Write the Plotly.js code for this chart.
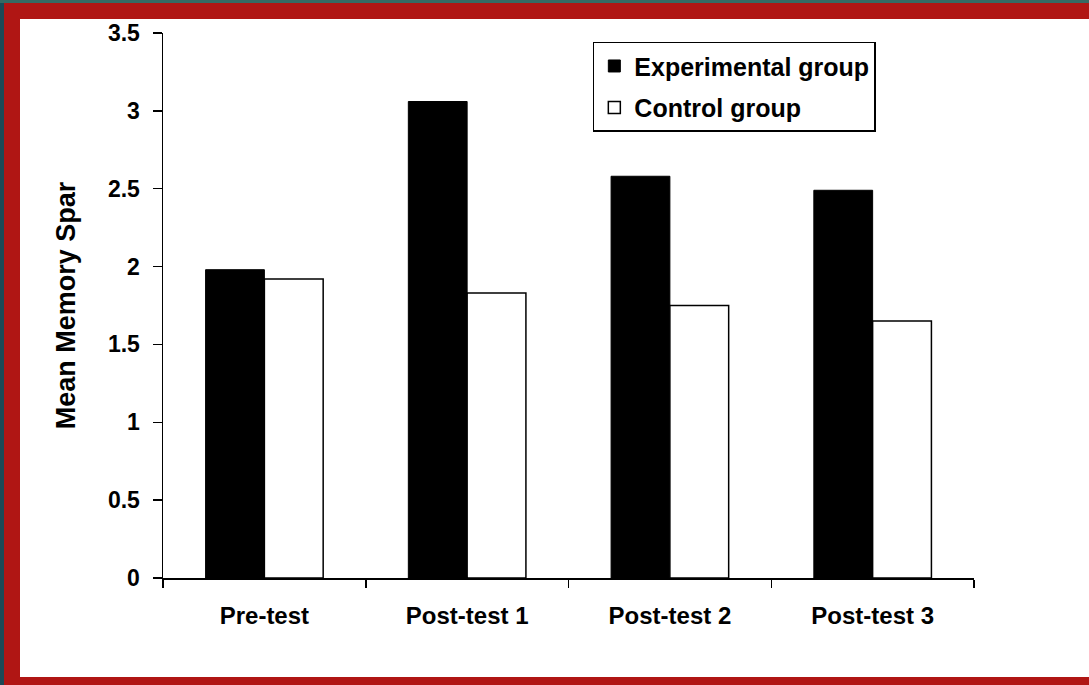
<!DOCTYPE html>
<html>
<head>
<meta charset="utf-8">
<script src="https://cdn.plot.ly/plotly-3.0.1.min.js"></script>
<style>
  html, body { margin: 0; padding: 0; }
  body { width: 1089px; height: 685px; background: #1c4a56; position: relative; overflow: hidden; }
  #topstrip { position: absolute; left: 0; top: 0; width: 1089px; height: 3px; background: #366a63; }
  #frame { position: absolute; left: 4px; top: 3px; width: 1085px; height: 682px; background: #b01614; }
  #chart { position: absolute; left: 20px; top: 19px; width: 1069px; height: 658px; background: #ffffff; }
</style>
</head>
<body>
<div id="topstrip"></div>
<div id="frame"></div>
<div id="chart"></div>
<script>
const categories = ["Pre-test", "Post-test 1", "Post-test 2", "Post-test 3"];
const experimentalValues = [1.98, 3.06, 2.58, 2.49];
const controlValues = [1.92, 1.83, 1.75, 1.65];
const seriesNames = ["Experimental group", "Control group"];
const yTickValues = [0, 0.5, 1, 1.5, 2, 2.5, 3, 3.5];

const fontFamily = "Liberation Sans, Arial, sans-serif";

const traces = [
  {
    type: "bar",
    name: seriesNames[0],
    x: categories,
    y: experimentalValues,
    legendgroup: "a",
    marker: { color: "#000000", line: { color: "#000000", width: 1 } }
  },
  {
    type: "bar",
    name: seriesNames[1],
    x: categories,
    y: controlValues,
    legendgroup: "b",
    marker: { color: "#ffffff", line: { color: "#000000", width: 1.5 } }
  }
];

const layout = {
  width: 1069,
  height: 658,
  paper_bgcolor: "#ffffff",
  plot_bgcolor: "#ffffff",
  margin: { l: 143, r: 115, t: 14, b: 99 },
  barmode: "group",
  bargap: 0.42,
  bargroupgap: 0,
  font: { family: fontFamily, color: "#000000", size: 20, weight: "bold" },
  showlegend: true,
  legend: {
    x: 0.530, y: 0.984, xanchor: "left", yanchor: "top",
    bordercolor: "#000000", borderwidth: 1.5, bgcolor: "#ffffff",
    font: { family: fontFamily, size: 25, color: "#000000", weight: "bold" },
    traceorder: "grouped", tracegroupgap: 6
  },
  xaxis: {
    type: "category",
    showline: true, linecolor: "#000000", linewidth: 1.5,
    ticks: "outside", tickson: "boundaries", ticklen: 8, tickwidth: 1.5, tickcolor: "#000000",
    showgrid: false, zeroline: false,
    tickfont: { family: fontFamily, size: 24, color: "#000000", weight: "bold" },
    ticklabelstandoff: 16
  },
  yaxis: {
    range: [0, 3.5],
    tickvals: yTickValues,
    showline: true, linecolor: "#000000", linewidth: 1.5,
    ticks: "outside", ticklen: 9, tickwidth: 1.5, tickcolor: "#000000",
    showgrid: false, zeroline: false,
    tickfont: { family: fontFamily, size: 23, color: "#000000", weight: "bold" },
    ticklabelstandoff: 8,
    title: { text: "Mean Memory Spar", font: { family: fontFamily, size: 27, color: "#000000", weight: "bold" }, standoff: 24 }
  }
};

Plotly.newPlot("chart", traces, layout, { displayModeBar: false, staticPlot: true });
</script>
</body>
</html>
